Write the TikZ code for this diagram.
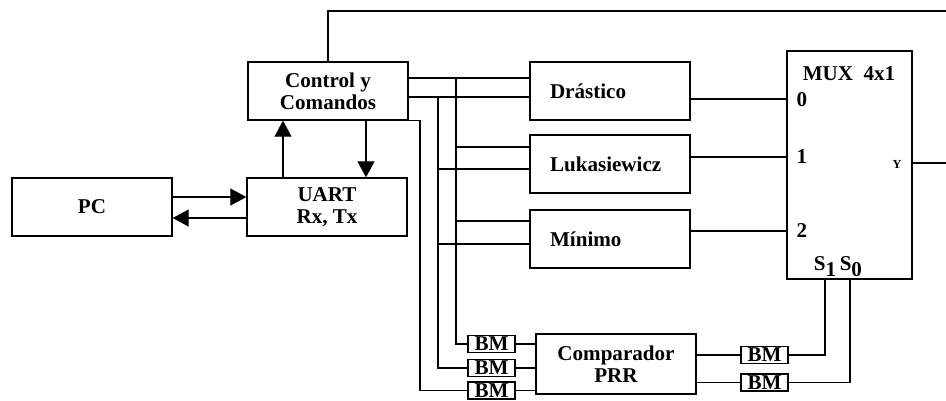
\documentclass[tikz,border=0pt]{standalone}
\usepackage{fontspec}
\setmainfont{Liberation Serif}
\usetikzlibrary{arrows.meta}

\begin{document}
\begin{tikzpicture}[x=0.02cm, y=-0.02cm, line width=0.6pt,
        font=\fontsize{12}{12.5}\selectfont\bfseries,
        >={Triangle[length=0.32cm, width=0.34cm]},
        blk/.style={draw, line width=0.8pt, minimum width=3.2cm, minimum height=1.16cm, align=center},
        fz/.style={blk, text width=2.4cm, inner xsep=0.4cm, align=left},
        bm/.style={draw, line width=0.8pt, minimum width=0.94cm, minimum height=0.34cm, inner sep=0pt}]

        \useasboundingbox (0,0) rectangle (946,400);

        % --- Bloques principales ---
        \node[blk] (pc)   at (92,207)  {PC};
        \node[blk] (uart) at (327,207) {UART\\Rx, Tx};
        \node[blk] (ctrl) at (328,91)  {Control y\\Comandos};

        % --- Operadores difusos ---
        \node[fz] (dras) at (610,91)  {Drástico};
        \node[fz] (luka) at (610,164) {Lukasiewicz};
        \node[fz] (mini) at (610,239) {Mínimo};

        % --- Comparador y bloques BM ---
        \node[blk, minimum height=1.2cm] (comp) at (616,364) {Comparador\\PRR};
        \node[bm] (bm1) at (491.5,344) {BM};
        \node[bm] (bm2) at (491.5,368) {BM};
        \node[bm] (bm3) at (491.5,390.5) {BM};
        \node[bm] (bmA) at (764.5,355) {BM};
        \node[bm] (bmB) at (764.5,382.5) {BM};

        % --- MUX 4x1 ---
        \node[draw, line width=0.8pt, minimum width=2.5cm, minimum height=4.56cm] (mux) at (849.5,165) {};
        \node (muxt) at (849,74) {MUX\ \ 4x1};
        \node (e0) at (802,100) {0};
        \node (e1) at (802,157) {1};
        \node (e2) at (802,231) {2};
        \node[font=\fontsize{7}{8}\selectfont\bfseries] (ys) at (897,164) {Y};
        \node (sel) at (838,267) {S\raisebox{-0.6ex}{1}\,S\raisebox{-0.6ex}{0}};

        % --- Puntos de referencia del cableado ---
        \coordinate (tx) at (0,197);
        \coordinate (rx) at (0,218);
        \coordinate (up) at (283,0);
        \coordinate (dn) at (366,0);
        \coordinate (hA) at (0,78);
        \coordinate (hB) at (0,97);
        \coordinate (vA) at (456,0);
        \coordinate (vB) at (438,0);
        \coordinate (vC) at (420,0);
        \coordinate (l1) at (0,147);
        \coordinate (l2) at (0,169);
        \coordinate (m1) at (0,221);
        \coordinate (m2) at (0,244);
        \coordinate (i0) at (0,99);
        \coordinate (i1) at (0,157);
        \coordinate (i2) at (0,231);
        \coordinate (s1) at (825,0);
        \coordinate (s0) at (850,0);
        \coordinate (topR) at (946,11);
        \coordinate (yR) at (946,163);

        % --- PC <-> UART <-> Control ---
        \draw[->] (pc.east |- tx) -- (uart.west |- tx);
        \draw[->] (uart.west |- rx) -- (pc.east |- rx);
        \draw[->] (uart.north -| up) -- (ctrl.south -| up);
        \draw[->] (ctrl.south -| dn) -- (uart.north -| dn);

        % --- Bus de Control hacia los operadores ---
        \draw (ctrl.east |- hA) -- (dras.west |- hA);
        \draw (ctrl.east |- hB) -- (dras.west |- hB);
        \draw (vA |- hA) |- (bm1.west);
        \draw (vB |- hB) |- (bm2.west);
        \draw (ctrl.south east) -| (vC |- bm3.west) -- (bm3.west);

        \draw (vA |- l1) -- (luka.west |- l1);
        \draw (vB |- l2) -- (luka.west |- l2);
        \draw (vA |- m1) -- (mini.west |- m1);
        \draw (vB |- m2) -- (mini.west |- m2);

        % --- Salidas hacia el MUX ---
        \draw (dras.east |- i0) -- (mux.west |- i0);
        \draw (luka.east |- i1) -- (mux.west |- i1);
        \draw (mini.east |- i2) -- (mux.west |- i2);

        % --- Comparador y selección ---
        \draw (bm1.east) -- (comp.west |- bm1.east);
        \draw (bm2.east) -- (comp.west |- bm2.east);
        \draw (bm3.east) -- (comp.west |- bm3.east);
        \draw (comp.east |- bmA) -- (bmA.west);
        \draw (comp.east |- bmB) -- (bmB.west);
        \draw (bmA.east) -| (mux.south -| s1);
        \draw (bmB.east) -| (mux.south -| s0);

        % --- Lazo superior y salida Y ---
        \draw (ctrl.north) |- (topR);
        \draw (mux.east |- yR) -- (yR);

    \end{tikzpicture}
\end{document}
